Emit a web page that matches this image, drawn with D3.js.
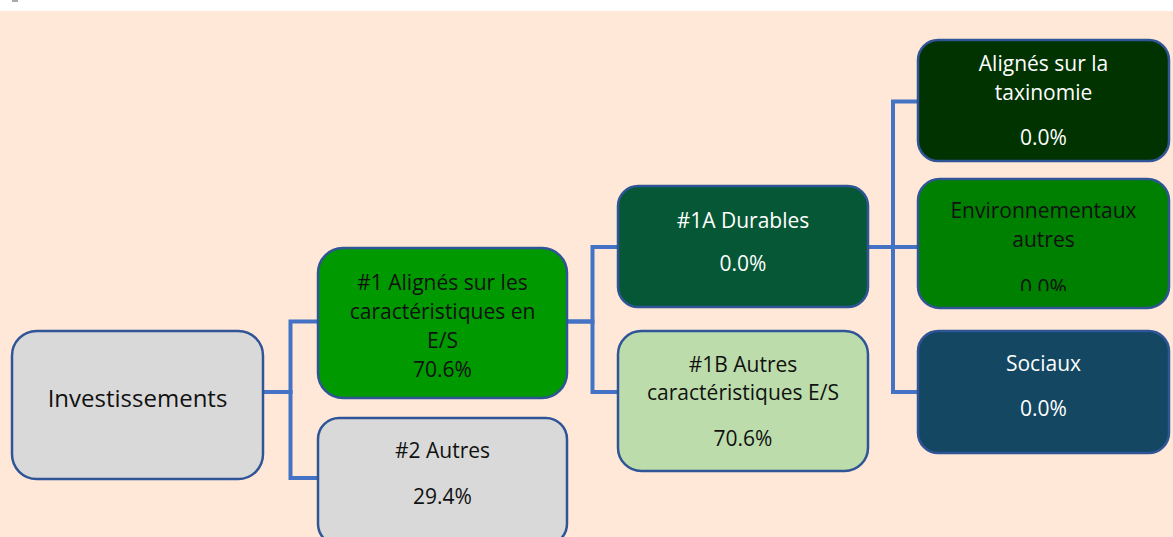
<!DOCTYPE html>
<html>
<head>
<meta charset="utf-8">
<script src="https://cdn.jsdelivr.net/npm/d3@7/dist/d3.min.js"></script>
<style>
  html, body { margin: 0; padding: 0; background: #ffffff; }
  svg { display: block; }
  text { font-family: "Open Sans", "Noto Sans", sans-serif; }
</style>
</head>
<body>
<svg id="chart" width="1173" height="537"></svg>
<script>
// ---------------- DATA ----------------
const labels = [
  "Investissements",
  "#1 Alignés sur les caractéristiques en E/S",
  "#2 Autres",
  "#1A Durables",
  "#1B Autres caractéristiques E/S",
  "Alignés sur la taxinomie",
  "Environnementaux autres",
  "Sociaux"
];
const labelLines = [
  ["Investissements"],
  ["#1 Alignés sur les", "caractéristiques en", "E/S"],
  ["#2 Autres"],
  ["#1A Durables"],
  ["#1B Autres", "caractéristiques E/S"],
  ["Alignés sur la", "taxinomie"],
  ["Environnementaux", "autres"],
  ["Sociaux"]
];
const values = [null, 70.6, 29.4, 0.0, 70.6, 0.0, 0.0, 0.0];
const parents = [null, 0, 0, 1, 1, 3, 3, 3];
const levels = [0, 1, 1, 2, 2, 3, 3, 3];

// ---------------- LAYOUT / STYLE ----------------
const colLeft = [12, 318, 618, 918];
const colWidth = [251, 249, 250, 251];
const boxTop    = [331, 248, 418, 186, 331, 40, 179, 331];
const boxBottom = [479, 398, 545, 307, 471, 161, 308, 453];
const linkY     = [392, 321.5, 478, 247, 392, 101.5, 247, 392];
const textY     = [407, 290, 458, 228, 372, 71, 218, 371];
const lineGap   = [0, 29, 0, 0, 28, 29, 29, 0];
const valueGap  = [0, 29, 46, 43, 46, 45, 48, 45];
const fontSize  = [24, 21, 21, 21, 21, 21, 21, 21];
const textClip  = [null, null, null, null, null, null, 291, null];
const fills     = ["#D9D9D9", "#009900", "#D9D9D9", "#055736", "#BCDDAB", "#003300", "#008000", "#134762"];
const textCols  = ["#111", "#111", "#111", "#ffffff", "#111", "#ffffff", "#111", "#ffffff"];

const W = 1173, H = 537;
const svg = d3.select("#chart");

// scales
const x = d3.scaleOrdinal().domain(d3.range(colLeft.length)).range(colLeft);
const w = d3.scaleOrdinal().domain(d3.range(colWidth.length)).range(colWidth);
const y = d3.scaleLinear().domain([0, H]).range([0, H]);

const nodes = labels.map((label, i) => ({
  i, label, lines: labelLines[i], value: values[i], parent: parents[i], level: levels[i],
  x0: x(levels[i]), x1: x(levels[i]) + w(levels[i]),
  y0: y(boxTop[i]), y1: y(boxBottom[i]), ly: y(linkY[i])
}));

// background
svg.append("rect").attr("x", 0).attr("y", 0).attr("width", W).attr("height", H).attr("fill", "#ffffff");
svg.append("rect").attr("x", 0).attr("y", 11).attr("width", W).attr("height", H - 11).attr("fill", "#FFE8D8");
svg.append("rect").attr("x", 12).attr("y", 0).attr("width", 6).attr("height", 2).attr("fill", "#aaaaaa");

// clip paths
const defs = svg.append("defs");
nodes.forEach(n => {
  if (textClip[n.i] != null) {
    defs.append("clipPath").attr("id", "clip" + n.i)
      .append("rect")
      .attr("x", n.x0).attr("y", n.y0)
      .attr("width", n.x1 - n.x0).attr("height", y(textClip[n.i]) - n.y0);
  }
});

// connectors
const links = nodes.filter(n => n.parent != null).map(n => ({ source: nodes[n.parent], target: n }));
svg.append("g").selectAll("path").data(links).join("path")
  .attr("d", d => {
    const p = d3.path();
    const mx = (d.source.x1 + d.target.x0) / 2;
    p.moveTo(d.source.x1, d.source.ly);
    p.lineTo(mx, d.source.ly);
    p.lineTo(mx, d.target.ly);
    p.lineTo(d.target.x0, d.target.ly);
    return p.toString();
  })
  .attr("fill", "none")
  .attr("stroke", "#4472C4")
  .attr("stroke-width", 4)
  .attr("stroke-linejoin", "miter");

// boxes
const g = svg.append("g").selectAll("g").data(nodes).join("g");
g.append("rect")
  .attr("x", d => d.x0).attr("y", d => d.y0)
  .attr("width", d => d.x1 - d.x0).attr("height", d => d.y1 - d.y0)
  .attr("rx", d => Math.min(d.x1 - d.x0, d.y1 - d.y0) / 6)
  .attr("fill", d => fills[d.i])
  .attr("stroke", "#2F5597")
  .attr("stroke-width", 2.5);

const fmt = d3.format(".1f");
const tg = g.append("g")
  .attr("clip-path", d => textClip[d.i] != null ? "url(#clip" + d.i + ")" : null);

tg.each(function(d) {
  const cx = (d.x0 + d.x1) / 2;
  const sel = d3.select(this);
  let yy = y(textY[d.i]);
  d.lines.forEach((ln, k) => {
    if (k > 0) yy += lineGap[d.i];
    sel.append("text")
      .attr("x", cx).attr("y", yy)
      .attr("text-anchor", "middle")
      .attr("font-size", fontSize[d.i])
      .attr("fill", textCols[d.i])
      .text(ln);
  });
  if (d.value != null) {
    yy += valueGap[d.i];
    sel.append("text")
      .attr("x", cx).attr("y", yy)
      .attr("text-anchor", "middle")
      .attr("font-size", fontSize[d.i])
      .attr("fill", textCols[d.i])
      .text(fmt(d.value) + "%");
  }
});
</script>
</body>
</html>
